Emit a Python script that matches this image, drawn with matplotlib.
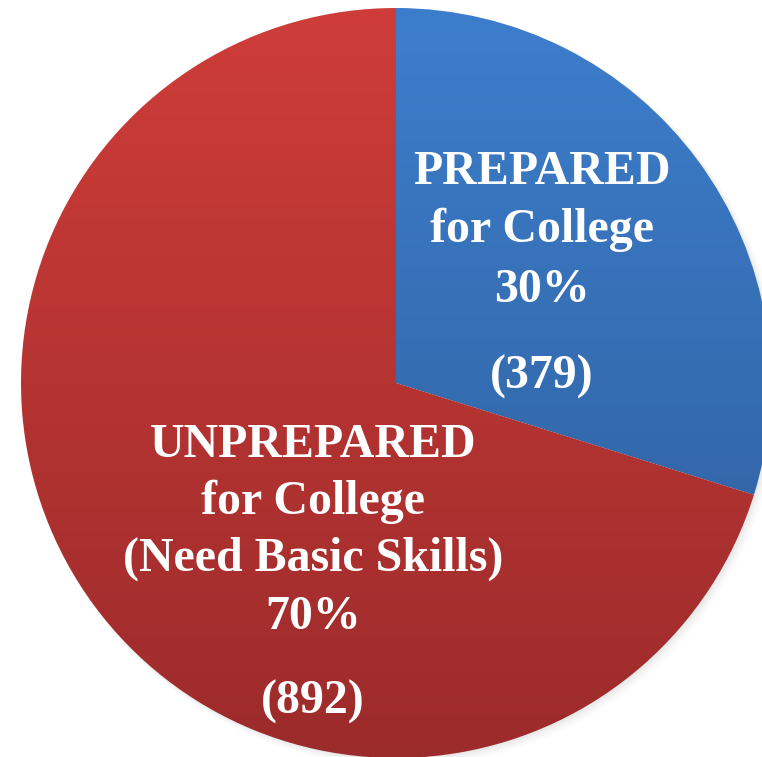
import numpy as np
import matplotlib
matplotlib.use("Agg")
import matplotlib.pyplot as plt
from matplotlib.colors import LinearSegmentedColormap
from matplotlib.patches import Circle

categories = ["PREPARED\nfor College", "UNPREPARED\nfor College\n(Need Basic Skills)"]
counts = [379, 892]
percents = ["30%", "70%"]
top_colors = ["#3d7ecc", "#ce3d39"]
bottom_colors = ["#2d5c98", "#9c2b2b"]

W, H = 762, 757
fig = plt.figure(figsize=(W / 100, H / 100), dpi=100)
ax = fig.add_axes([0, 0, 1, 1])

cx, cy, R = 396, H - 383, 375

# soft shadow
for i, a in enumerate(np.linspace(0.05, 0.01, 5)):
    ax.add_patch(Circle((cx + 2 + i, cy - 2 - i), R + i * 0.8, color="gray",
                        alpha=a, lw=0, zorder=0))

wedges, _ = ax.pie(counts, startangle=90, counterclock=False,
                   center=(cx, cy), radius=R, frame=True,
                   wedgeprops=dict(linewidth=0))
ax.set_xlim(0, W)
ax.set_ylim(0, H)
ax.set_aspect("equal")
ax.axis("off")

grad = np.linspace(0, 1, 256).reshape(-1, 1)
for w, ct, cb in zip(wedges, top_colors, bottom_colors):
    w.set_facecolor("none")
    cmap = LinearSegmentedColormap.from_list("g", [cb, ct])
    im = ax.imshow(grad, cmap=cmap, origin="lower", aspect="auto",
                   extent=(cx - R, cx + R, cy - R, cy + R), zorder=1)
    im.set_clip_path(w)
ax.set_xlim(0, W)
ax.set_ylim(0, H)

font = dict(family="Liberation Serif", weight="bold", color="white",
            ha="center", va="center", fontsize=34.5, zorder=5)

# blue labels
bx = 542
blue_lines = categories[0].split("\n") + [percents[0]]
for y, t in zip([172, 230, 290], blue_lines):
    ax.text(bx, H - y, t, **font)
ax.text(bx, H - 377, f"({counts[0]})", **font)

# red labels
rx = 313
red_lines = categories[1].split("\n") + [percents[1]]
for y, t in zip([445, 502, 559, 617], red_lines):
    ax.text(rx, H - y, t, **font)
ax.text(rx, H - 702, f"({counts[1]})", **font)

fig.savefig("out.png", dpi=100)
